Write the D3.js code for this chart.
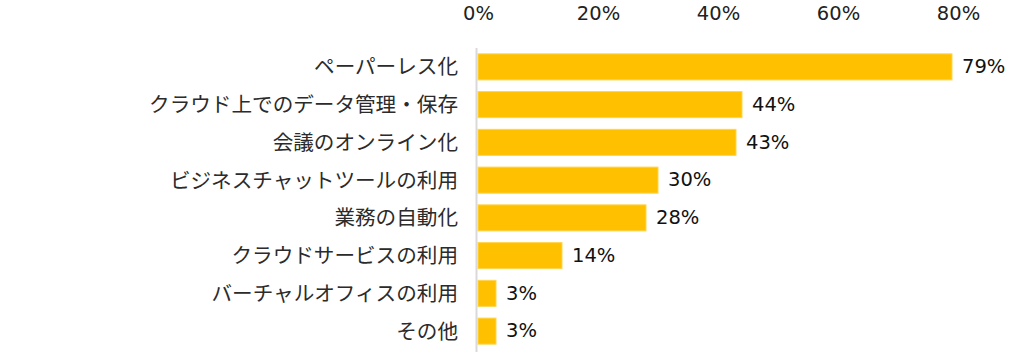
<!DOCTYPE html>
<html>
<head>
<meta charset="utf-8">
<script src="https://cdn.jsdelivr.net/npm/d3@7"></script>
<style>
  body { margin: 0; background: #fff; }
  svg { display: block; font-family: "Noto Sans CJK JP", "Noto Sans", sans-serif; }
</style>
</head>
<body>
<div id="chart"></div>
<script>
const categories = [
    "ペーパーレス化",
    "クラウド上でのデータ管理・保存",
    "会議のオンライン化",
    "ビジネスチャットツールの利用",
    "業務の自動化",
    "クラウドサービスの利用",
    "バーチャルオフィスの利用",
    "その他"
];
const values = [79, 44, 43, 30, 28, 14, 3, 3];
const tickValues = [0, 20, 40, 60, 80];

const WIDTH = 1023;
const HEIGHT = 352;
const NUM_FONT = "\"DejaVu Sans\", sans-serif";

let svg = d3.select("#chart").append("svg")
    .attr("width", WIDTH)
    .attr("height", HEIGHT);

let x = d3.scaleLinear()
    .domain([0, 80])
    .range([478, 958]);

let y = d3.scaleBand()
    .domain(categories)
    .range([48, 350])
    .paddingInner(0.31)
    .paddingOuter(0.155);

// top axis, labels only
let xAxis = svg.append("g")
    .attr("transform", "translate(0,20)")
    .call(d3.axisTop(x).tickValues(tickValues).tickSize(0).tickPadding(0).tickFormat(d => d + "%"));
xAxis.select(".domain").remove();
xAxis.selectAll("text")
    .attr("font-size", 19.5)
    .attr("fill", "#222")
    .attr("font-family", NUM_FONT);

// vertical baseline
svg.append("line")
    .attr("x1", 476.5).attr("x2", 476.5)
    .attr("y1", 48).attr("y2", 352)
    .attr("stroke", "#d9d9d9")
    .attr("stroke-width", 2);

// bars
svg.selectAll("rect.bar")
    .data(values)
    .enter()
    .append("rect")
        .attr("class", "bar")
        .attr("x", x(0))
        .attr("y", (d, i) => y(categories[i]))
        .attr("width", d => x(d) - x(0))
        .attr("height", y.bandwidth())
        .attr("fill", "#FFC000")
        .attr("stroke", "#FFD54F")
        .attr("stroke-width", 1);

// category labels
svg.selectAll("text.cat")
    .data(categories)
    .enter()
    .append("text")
        .attr("class", "cat")
        .attr("x", 458)
        .attr("y", d => y(d) + y.bandwidth() / 2)
        .attr("dy", "0.36em")
        .attr("text-anchor", "end")
        .attr("font-size", 20.6)
        .attr("fill", "#2b2b2b")
        .text(d => d);

// value labels
svg.selectAll("text.val")
    .data(values)
    .enter()
    .append("text")
        .attr("class", "val")
        .attr("x", d => x(d) + 10)
        .attr("y", (d, i) => y(categories[i]) + y.bandwidth() / 2)
        .attr("dy", "0.32em")
        .attr("font-size", 19.5)
        .attr("fill", "#111")
        .attr("font-family", NUM_FONT)
        .text(d => d + "%");
</script>
</body>
</html>
